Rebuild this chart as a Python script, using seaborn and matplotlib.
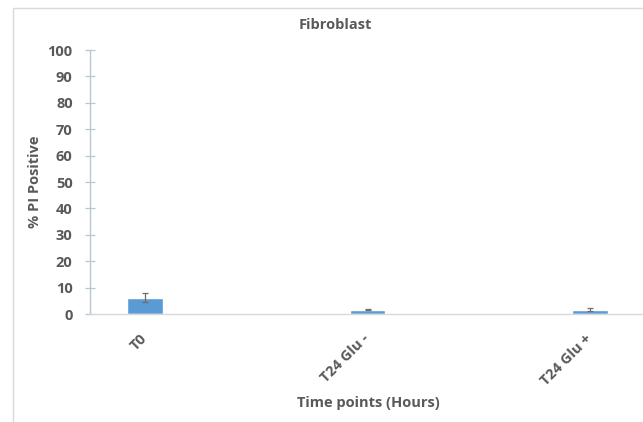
import matplotlib
matplotlib.use("Agg")
import matplotlib.pyplot as plt
from matplotlib.patches import Rectangle
import seaborn as sns
import pandas as pd

# Fibroblast PI staining: mean % positive and error per time point
time_points = ["T0", "T24 Glu -", "T24 Glu +"]
pi_positive = [6.2, 1.7, 1.7]
pi_error = [1.8, 0.3, 0.5]
y_ticks = [0, 10, 20, 30, 40, 50, 60, 70, 80, 90, 100]

sns.set_theme(style="white")
plt.rcParams["font.family"] = ["Open Sans", "DejaVu Sans"]

text_color = "#595959"
bar_color = "#5B9BD5"
font_kw = dict(fontsize=10.5, fontweight="bold", color=text_color)

W, H = 643, 422
fig = plt.figure(figsize=(W / 100, H / 100), dpi=100)
fig.patch.set_facecolor("white")

# chart-area frame
fig.patches.append(Rectangle((12.5 / W, -0.1), 1.2, 1 - 7.5 / H + 0.1,
                             transform=fig.transFigure, fill=False,
                             edgecolor="#d9d9d9", linewidth=1.0, zorder=0))

ax = fig.add_axes([90 / W, 1 - 314 / H, (W - 90) / W + 0.02, (314 - 50) / H])

df = pd.DataFrame({"time": time_points, "pi": pi_positive})
sns.barplot(data=df, x="time", y="pi", color=bar_color, saturation=1,
            width=0.16, errorbar=None, ax=ax, zorder=2)
ax.errorbar(range(len(time_points)), pi_positive, yerr=pi_error, fmt="none",
            ecolor="#6e6e6e", elinewidth=0.9, capsize=2.5, capthick=0.9, zorder=3)

ax.set_xlim(-0.247, 2.238 + 0.02 * W / 222.5)
ax.set_ylim(0, 100)
ax.set_yticks(y_ticks)
ax.set_yticklabels([str(v) for v in y_ticks], **font_kw)

ax.set_xticks(range(len(time_points)))
ax.set_xticklabels(time_points, rotation=45, ha="right", va="center",
                   rotation_mode="anchor", **font_kw)
ax.tick_params(axis="x", bottom=False, length=0, pad=16)
ax.tick_params(axis="y", left=True, direction="inout", length=7, width=0.9,
               color="#b4c8d6", pad=9)

for side in ("top", "right"):
    ax.spines[side].set_visible(False)
ax.spines["left"].set_color("#b4c8d6")
ax.spines["left"].set_linewidth(1.0)
ax.spines["bottom"].set_color("#d9d9d9")
ax.spines["bottom"].set_linewidth(1.0)

ax.set_xlabel("")
ax.set_ylabel("")
fig.text(35 / W, 1 - 182 / H, "% PI Positive", rotation=90, ha="center",
         va="center", **font_kw)
fig.text(368 / W, 1 - 403 / H, "Time points (Hours)", ha="center",
         va="center", **font_kw)
fig.text(335 / W, 1 - 25 / H, "Fibroblast", ha="center", va="center",
         **font_kw)

fig.savefig("out.png", dpi=100, facecolor="white")
